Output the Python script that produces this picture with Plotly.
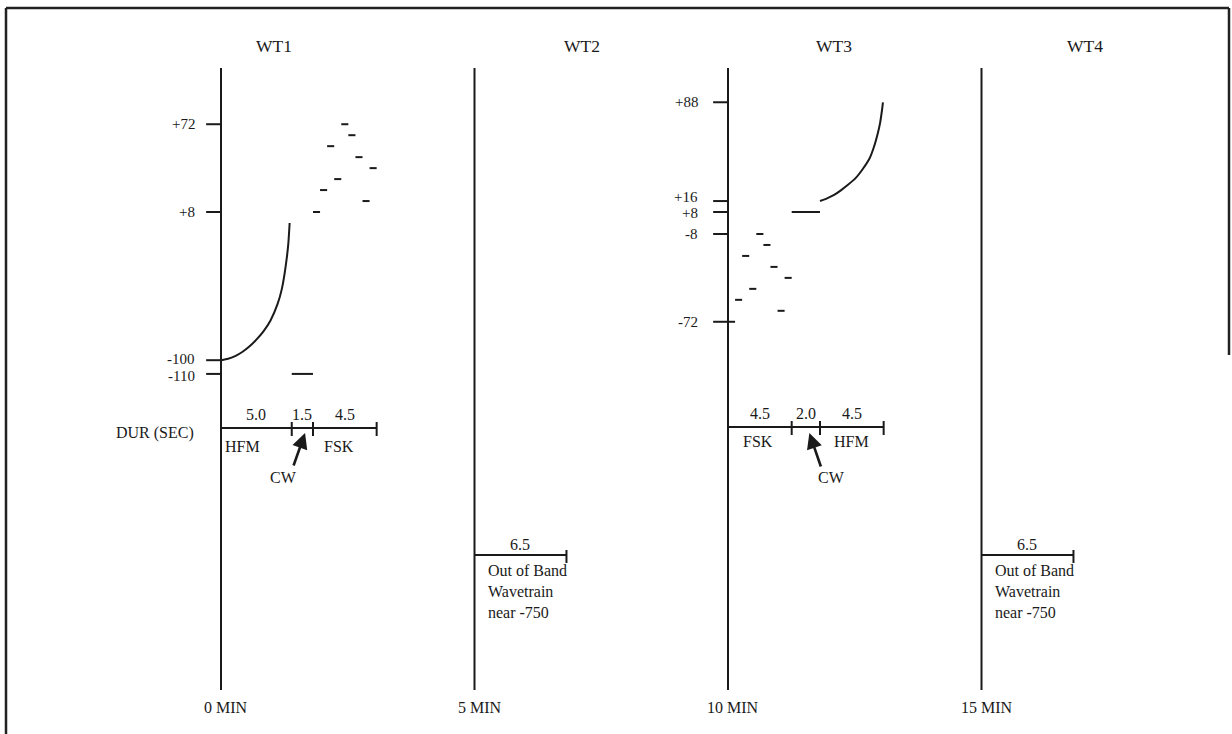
import plotly.graph_objects as go

W, H = 1232, 734
INK = "#1a1a1a"
FONT = "Liberation Serif, Times New Roman, serif"

# ---------------- data ----------------
wave_names = ["WT1", "WT2", "WT3", "WT4"]
wave_start_min = [0, 5, 10, 15]
min_labels = ["0 MIN", "5 MIN", "10 MIN", "15 MIN"]

wt1_seg_names = ["HFM", "CW", "FSK"]
wt1_seg_dur = [5.0, 1.5, 4.5]
wt3_seg_names = ["FSK", "CW", "HFM"]
wt3_seg_dur = [4.5, 2.0, 4.5]
oob_dur = 6.5
oob_text = "Out of Band<br>Wavetrain<br>near -750"

wt1_ticks = [72, 8, -100, -110]
wt1_tick_labels = ["+72", "+8", "-100", "-110"]
wt3_ticks = [88, 16, 8, -8, -72]
wt3_tick_labels = ["+88", "+16", "+8", "-8", "-72"]

wt1_hfm_t = [0, 0.5, 1.0, 1.5, 2.0, 2.5, 3.0, 3.5, 4.0, 4.3, 4.55, 4.75, 4.85]
wt1_hfm_f = [-100, -99, -97, -94, -90, -85, -79, -71, -59, -48, -33, -16, 0]
wt1_cw_f = -110
wt1_fsk_f = [8, 24, 56, 32, 72, 64, 48, 16, 40]

wt3_fsk_f = [-72, -56, -24, -48, -8, -16, -32, -64, -40]
wt3_cw_f = 8
wt3_hfm_t = [6.5, 7.0, 7.5, 8.0, 8.5, 9.0, 9.5, 10.0, 10.3, 10.6, 10.75, 10.88, 10.95]
wt3_hfm_f = [16, 18, 20.5, 24, 28, 32.5, 39, 47, 55, 66, 73, 82, 88]

fsk_slot = 0.5

# ---------------- scales (layout) ----------------
X0_PX = 221.0        # pixel of 0 MIN
PX_PER_MIN = 50.7
PX_PER_SEC = 14.15
Y0_PX = 223.0        # pixel of 0 Hz
PX_PER_HZ = 1.372
FS = 16


def pp(py):
    """pixel row -> paper y"""
    return 1 - py / H


fig = go.Figure()

layout_axes = {}
layout_axes["xaxis"] = dict(range=[-X0_PX / PX_PER_MIN, (W - X0_PX) / PX_PER_MIN],
                            visible=False, fixedrange=True)
layout_axes["yaxis"] = dict(range=[(Y0_PX - H) / PX_PER_HZ, Y0_PX / PX_PER_HZ],
                            visible=False, fixedrange=True)
sec_axis = []
for i, m in enumerate(wave_start_min):
    origin = X0_PX + PX_PER_MIN * m
    name = f"xaxis{i + 2}"
    layout_axes[name] = dict(range=[-origin / PX_PER_SEC, (W - origin) / PX_PER_SEC],
                             overlaying="x", anchor="y", visible=False, fixedrange=True)
    sec_axis.append(f"x{i + 2}")

shapes = []
ann = []


def line_trace(x, y, xa, width=2.0):
    fig.add_trace(go.Scatter(x=x, y=y, xaxis=xa, yaxis="y", mode="lines",
                             line=dict(color=INK, width=width, shape="spline", smoothing=0.6),
                             hoverinfo="skip", showlegend=False))


def text(x, y, s, xref, yref="paper", size=FS, xanchor="center", yanchor="middle",
         align="center", yshift=0):
    ann.append(dict(x=x, y=y, xref=xref, yref=yref, text=s, showarrow=False,
                    font=dict(family=FONT, size=size, color=INK), yshift=yshift,
                    xanchor=xanchor, yanchor=yanchor, align=align))


# time lines, titles, minute labels
title_dx = [1.05, 2.12, 2.1, 2.05]
for i, m in enumerate(wave_start_min):
    shapes.append(dict(type="line", xref="x", yref="paper", x0=m, x1=m,
                       y0=pp(690), y1=pp(68), line=dict(color=INK, width=2)))
    text(m + title_dx[i], pp(46), wave_names[i], "x", size=17.5)
    text(m + 0.1, pp(707), min_labels[i], "x")


# frequency ticks
def freq_ticks(xa, vals, labels, lab_x, shifts):
    xs, ys = [], []
    for v in vals:
        xs += [-1.05, 0, None]
        ys += [v, v, None]
    fig.add_trace(go.Scatter(x=xs, y=ys, xaxis=xa, yaxis="y", mode="lines",
                             line=dict(color=INK, width=2), hoverinfo="skip", showlegend=False))
    for v, l, s in zip(vals, labels, shifts):
        text(lab_x, v, l, xa, yref="y", size=15, xanchor="right", yshift=s)


freq_ticks(sec_axis[0], wt1_ticks, wt1_tick_labels, -1.7, [0, 0, 1, -2])
freq_ticks(sec_axis[2], wt3_ticks, wt3_tick_labels, -1.95, [0, 4, -1, 0, 0])


# FSK dashes
def fsk(xa, t0, freqs):
    xs, ys = [], []
    for k, f in enumerate(freqs):
        a = t0 + k * fsk_slot
        xs += [a, a + fsk_slot, None]
        ys += [f, f, None]
    fig.add_trace(go.Scatter(x=xs, y=ys, xaxis=xa, yaxis="y", mode="lines",
                             line=dict(color=INK, width=2), hoverinfo="skip", showlegend=False))


# WT1 signals
line_trace(wt1_hfm_t, wt1_hfm_f, sec_axis[0])
c1 = [sum(wt1_seg_dur[:k + 1]) for k in range(3)]
line_trace([c1[0], c1[1]], [wt1_cw_f, wt1_cw_f], sec_axis[0])
fsk(sec_axis[0], c1[1], wt1_fsk_f)

# WT3 signals
c3 = [sum(wt3_seg_dur[:k + 1]) for k in range(3)]
fsk(sec_axis[2], 0, wt3_fsk_f)
line_trace([c3[0], c3[1]], [wt3_cw_f, wt3_cw_f], sec_axis[2])
line_trace(wt3_hfm_t, wt3_hfm_f, sec_axis[2])


# duration rows
def dur_row(xa, durs, names, name_dx, y_line, y_num, y_name):
    tot = sum(durs)
    shapes.append(dict(type="line", xref=xa, yref="paper", x0=0, x1=tot,
                       y0=pp(y_line), y1=pp(y_line), line=dict(color=INK, width=2)))
    cum = 0
    for d, n, dx in zip(durs, names, name_dx):
        a, b = cum, cum + d
        shapes.append(dict(type="line", xref=xa, yref="paper", x0=b, x1=b,
                           y0=pp(y_line + 8), y1=pp(y_line - 6), line=dict(color=INK, width=2)))
        text((a + b) / 2, pp(y_num), f"{d:.1f}", xa)
        if n != "CW":
            text((a + b) / 2 + dx, pp(y_name), n, xa)
        cum = b


dur_row(sec_axis[0], wt1_seg_dur, wt1_seg_names, [-0.95, 0, -0.4], 428, 414, 446)
dur_row(sec_axis[2], wt3_seg_dur, wt3_seg_names, [-0.15, 0, 0], 427, 413, 441)
text(-1.8, pp(433), "DUR (SEC)", sec_axis[0], xanchor="right")


# CW arrows
def cw_arrow(xa, head_x, ax, ay, text_x):
    ann.append(dict(x=head_x, y=pp(433), xref=xa, yref="paper", text="", showarrow=True,
                    ax=ax, ay=ay, axref="pixel", ayref="pixel", arrowhead=2,
                    arrowsize=1.2, arrowwidth=2.6, arrowcolor=INK, standoff=0, startstandoff=0))
    text(text_x, pp(477), "CW", xa)


cw_arrow(sec_axis[0], 5.94, -12, 34, 4.45)
cw_arrow(sec_axis[2], 5.75, 12, 35, 7.3)

# out-of-band wavetrains WT2, WT4
for idx in (1, 3):
    xa = sec_axis[idx]
    shapes.append(dict(type="line", xref=xa, yref="paper", x0=0, x1=oob_dur,
                       y0=pp(555), y1=pp(555), line=dict(color=INK, width=2)))
    shapes.append(dict(type="line", xref=xa, yref="paper", x0=oob_dur, x1=oob_dur,
                       y0=pp(563), y1=pp(550), line=dict(color=INK, width=2)))
    text(oob_dur / 2, pp(544), f"{oob_dur:.1f}", xa)
    text(0.8, pp(591), oob_text, xa, xanchor="left", align="left")

# frame
for x0, y0, x1, y1 in [(6, 734, 6, 8), (6, 8, 1229, 8), (1229, 8, 1229, 355)]:
    shapes.append(dict(type="line", xref="paper", yref="paper", x0=x0 / W, x1=x1 / W,
                       y0=pp(y0), y1=pp(y1), line=dict(color="#222", width=2.5)))

fig.update_layout(width=W, height=H, margin=dict(l=0, r=0, t=0, b=0, pad=0),
                  paper_bgcolor="white", plot_bgcolor="white", autosize=False,
                  shapes=shapes, annotations=ann, showlegend=False, **layout_axes)

fig.write_html("out.html", config={"displayModeBar": False},
               post_script="document.body.style.margin='0px';document.body.style.overflow='hidden';")
